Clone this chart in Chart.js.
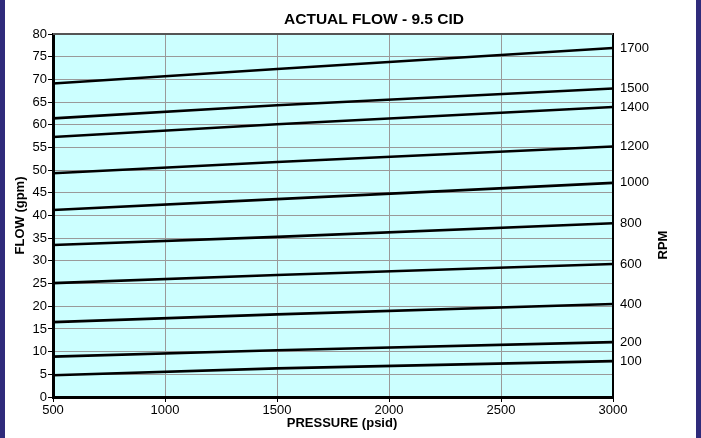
<!DOCTYPE html>
<html>
<head>
<meta charset="utf-8">
<script src="https://cdn.jsdelivr.net/npm/chart.js@4"></script>
<style>
  html, body { margin: 0; padding: 0; background: #fff; }
  #wrap {
    width: 701px; height: 438px; box-sizing: border-box;
    border-left: 5px solid #2f2b7b; border-right: 5px solid #2f2b7b;
    background: #fff;
  }
  #flowChart { display: block; }
</style>
</head>
<body>
<div id="wrap"><canvas id="flowChart" width="691" height="438"></canvas></div>
<script>
// pressure points (psid) where flow was read
const pressure = [500, 1500, 3000];
const rpmLabels = ['100', '200', '400', '600', '800', '1000', '1200', '1400', '1500', '1700'];
// flow (gpm) per rpm line, at each pressure point
const flow100 = [4.8, 6.3, 7.9];
const flow200 = [8.9, 10.3, 12.1];
const flow400 = [16.5, 18.2, 20.5];
const flow600 = [25.1, 26.9, 29.3];
const flow800 = [33.5, 35.3, 38.3];
const flow1000 = [41.2, 43.6, 47.2];
const flow1200 = [49.3, 51.8, 55.2];
const flow1400 = [57.3, 60.1, 63.9];
const flow1500 = [61.4, 64.3, 68.0];
const flow1700 = [69.1, 72.3, 76.9];
const flowSeries = [flow100, flow200, flow400, flow600, flow800, flow1000, flow1200, flow1400, flow1500, flow1700];

const FONT = "'Liberation Sans', Arial, sans-serif";

// right-hand RPM labels sit at each line's end value
const rpmTickValues = flowSeries.map(s => s[s.length - 1]);

const datasets = flowSeries.map((s, i) => ({
    label: rpmLabels[i] + ' RPM',
    data: s.map((v, j) => ({ x: pressure[j], y: v })),
    borderColor: '#000',
    borderWidth: 2.6,
    pointRadius: 0,
    tension: 0,
    fill: false
}));

const plotFrame = {
    id: 'plotFrame',
    beforeDraw(chart) {
        const { ctx, chartArea: a } = chart;
        ctx.save();
        ctx.fillStyle = '#ccffff';
        ctx.fillRect(a.left, a.top, a.right - a.left, a.bottom - a.top);
        ctx.restore();
    },
    afterDraw(chart) {
        const { ctx, chartArea: a } = chart;
        ctx.save();
        ctx.strokeStyle = '#555';
        ctx.lineWidth = 2;
        ctx.beginPath();
        ctx.moveTo(a.left, a.top);
        ctx.lineTo(a.right, a.top);
        ctx.stroke();

        ctx.fillStyle = '#000';
        ctx.textAlign = 'center';
        ctx.textBaseline = 'middle';
        ctx.font = 'bold 15.5px ' + FONT;
        ctx.fillText('ACTUAL FLOW - 9.5 CID', 369, 20);

        ctx.font = 'bold 13px ' + FONT;
        ctx.fillText('PRESSURE (psid)', 337, 423);

        ctx.translate(658, 245);
        ctx.rotate(-Math.PI / 2);
        ctx.fillText('RPM', 0, 0);
        ctx.restore();
    }
};

new Chart(document.getElementById('flowChart'), {
    type: 'line',
    data: { datasets: datasets },
    plugins: [plotFrame],
    options: {
        responsive: false,
        animation: false,
        layout: { padding: { top: 34, left: 0, right: 0, bottom: 0 } },
        plugins: { legend: { display: false }, tooltip: { enabled: false } },
        scales: {
            x: {
                type: 'linear',
                min: 500, max: 3000,
                afterFit(scale) { scale.height = 41; },
                ticks: {
                    stepSize: 500, color: '#000', padding: 1,
                    font: { family: FONT, size: 13 },
                    callback: v => String(v)
                },
                grid: { color: '#9a9a9a', tickColor: '#000', tickLength: 5 },
                border: { color: '#000', width: 3 }
            },
            y: {
                position: 'left',
                min: 0, max: 80,
                afterFit(scale) { scale.width = 48; },
                ticks: { stepSize: 5, color: '#000', padding: 1, font: { family: FONT, size: 13 } },
                grid: { color: '#9a9a9a', tickColor: '#000', tickLength: 5 },
                border: { color: '#000', width: 3 },
                title: {
                    display: true, text: 'FLOW (gpm)', color: '#000',
                    font: { family: FONT, size: 13, weight: 'bold' },
                    padding: { top: 8, bottom: 8 }
                }
            },
            y2: {
                position: 'right',
                min: 0, max: 80,
                afterFit(scale) { scale.width = 83; },
                afterBuildTicks(scale) {
                    scale.ticks = rpmTickValues.map(v => ({ value: v }));
                },
                ticks: {
                    autoSkip: false,
                    color: '#000',
                    padding: 7,
                    font: { family: FONT, size: 13 },
                    callback: (value, index) => rpmLabels[index]
                },
                grid: { drawOnChartArea: false, drawTicks: false },
                border: { color: '#000', width: 2 }
            }
        }
    }
});
</script>
</body>
</html>
